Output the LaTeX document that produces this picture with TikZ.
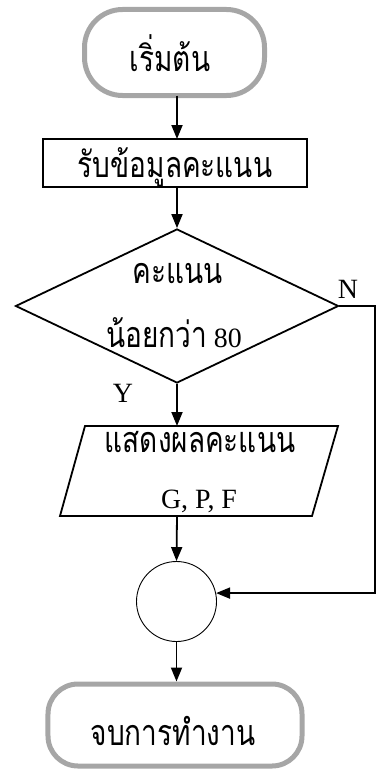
\documentclass[tikz,border=0pt]{standalone}
\usepackage{fontspec}
\setmainfont{Liberation Serif}
\newfontfamily\thai[Script=Thai,FakeStretch=0.78]{Loma}
\usetikzlibrary{arrows.meta,shapes.geometric}
\begin{document}
\begin{tikzpicture}[x=1bp,y=-1bp,
  term/.style={draw=black!35, line width=5bp, rounded corners=#1, inner sep=0pt},
  box/.style={draw, line width=1.8bp, inner sep=0pt},
  thaitxt/.style={font=\thai\fontsize{36}{38}\selectfont, inner sep=0pt, anchor=base},
  lat/.style={font=\fontsize{28}{30}\selectfont, inner sep=0pt},
  arr/.style={line width=1.8bp, -{Triangle[length=14bp,width=11bp]}},
  ln/.style={line width=1.8bp}]
\useasboundingbox (0,0) rectangle (378,769);
% start
\node[term=38bp, minimum width=180bp, minimum height=86bp] (start) at (174.5,52.5) {};
\node[thaitxt] (tstart) at (170,72) {เริ่มต้น};
% input rectangle
\node[box, minimum width=264bp, minimum height=48bp] (inp) at (175,163) {};
\node[thaitxt] (tinp) at (175,177) {รับข้อมูลคะแนน};
% decision
\node[diamond, draw, line width=1.8bp, inner sep=0pt, minimum width=323bp, minimum height=154bp] (dec) at (177,306) {};
\node[thaitxt] (tdec1) at (178,283) {คะแนน};
\node[lat, anchor=base] (tdec2) at (174,347) {{\thai\fontsize{36}{38}\selectfont น้อยกว่า} 80};
\node[lat] (lN) at (348,289) {N};
\node[lat] (lY) at (123,393) {Y};
% output parallelogram
\coordinate (p1) at (85,426);
\coordinate (p2) at (338,426);
\coordinate (p3) at (312,516);
\coordinate (p4) at (60,516);
\draw[ln, line join=miter] (p1) -- (p2) -- (p3) -- (p4) -- cycle;
\node[thaitxt] (tout1) at (200,452) {แสดงผลคะแนน};
\node[lat, anchor=base] (tout2) at (199,508) {G, P, F};
\coordinate (outtop) at (177,426);
\coordinate (outbot) at (177,516);
% connector circle
\node[circle, draw, line width=0.9bp, minimum size=80bp, inner sep=0pt] (con) at (176.5,601.5) {};
% end
\node[term=30bp, minimum width=254bp, minimum height=82bp] (stop) at (175,725) {};
\node[thaitxt] (tstop) at (173,745) {จบการทำงาน};
% connectors
\draw[arr] (177,95.5) -- (177,139);
\draw[arr] (177,187) -- (dec.north);
\draw[arr] (dec.south) -- (outtop);
\draw[arr] (outbot) -- (con.north);
\draw[arr] (con.south) -- (con.south |- stop.north);
\coordinate (nr) at (375,306);
\draw[arr] (dec.east) -- (nr) -- (nr |- con.12) -- (con.12);
\end{tikzpicture}
\end{document}
